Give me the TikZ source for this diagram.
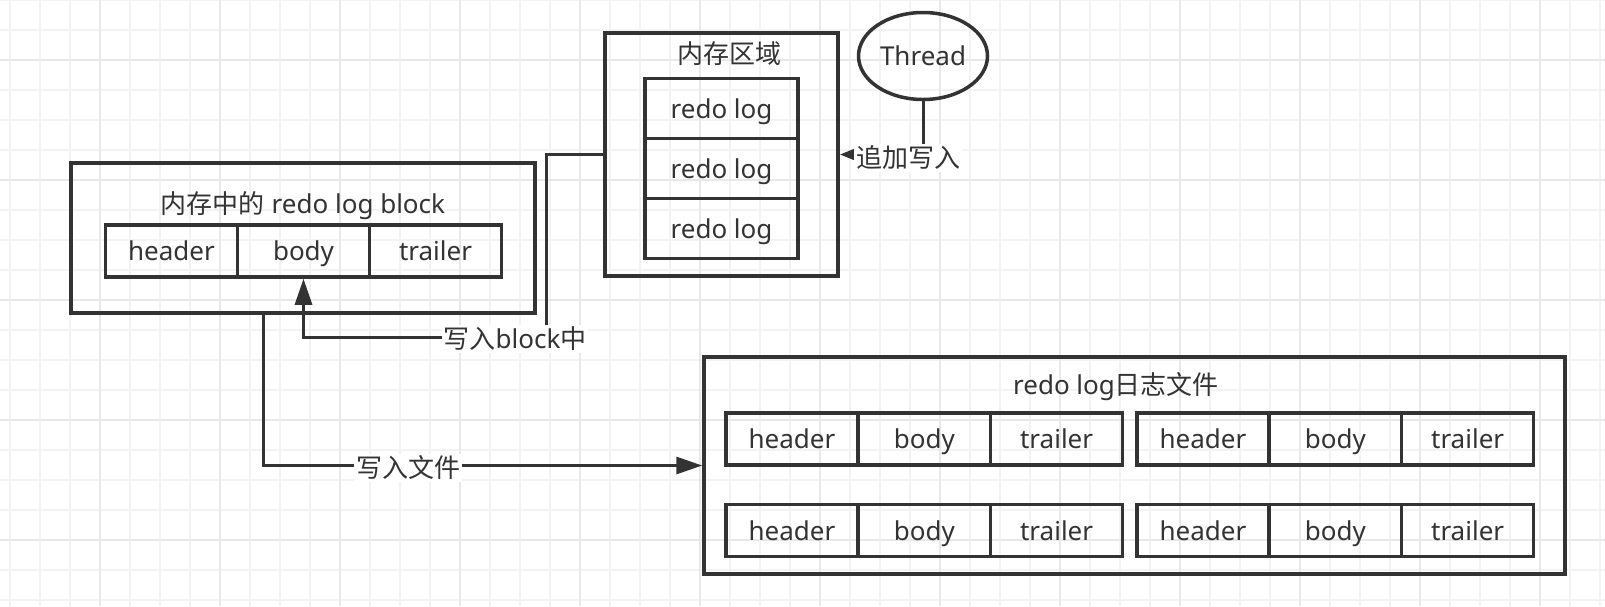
\documentclass[tikz,border=0pt]{standalone}
\usepackage{fontspec}
\setmainfont{Noto Sans}
\newfontfamily\zh{Noto Sans CJK SC}
\usetikzlibrary{shapes.geometric,arrows.meta}
\definecolor{ink}{HTML}{333333}
\definecolor{gridminor}{HTML}{F3F3F3}
\definecolor{gridmajor}{HTML}{E8E8E8}
\begin{document}
\begin{tikzpicture}[x=1pt,y=-1pt]
	\tikzstyle{every node}=[text=ink,font=\fontsize{26}{30}\selectfont]
	\tikzstyle{frame}=[draw=ink,line width=3.5pt,rectangle,inner sep=0pt]
	\tikzstyle{cell}=[draw=ink,line width=3.5pt,rectangle,inner sep=0pt,minimum width=132pt,minimum height=52pt,text height=19pt,text depth=0pt]
	\tikzstyle{conn}=[draw=ink,line width=3pt]
	\tikzstyle{lbl}=[fill=white,inner sep=2pt]
	\useasboundingbox (0,0) rectangle (1605,606);
	\fill[white] (0,0) rectangle (1605,606);
	% background grid
	\foreach \x in {10,40,...,1600} \draw[gridminor,line width=1.5pt] (\x,0) -- (\x,606);
	\foreach \y in {0,30,...,600} \draw[gridminor,line width=1.5pt] (0,\y) -- (1605,\y);
	\foreach \x in {100,220,...,1540} \draw[gridmajor,line width=1.5pt] (\x,0) -- (\x,606);
	\foreach \y in {60,180,...,540} \draw[gridmajor,line width=1.5pt] (0,\y) -- (1605,\y);
	% memory area
	\node[frame,minimum width=233pt,minimum height=243pt] (mem) at (721.5,154.5) {};
	\node (memTitle) at (729,54) {\zh 内存区域};
	\foreach \i/\y in {1/108.5,2/168.5,3/228.5}
		\node[cell,minimum width=153pt,minimum height=60pt] (log\i) at (721.5,\y) {redo log};
	\node[ellipse,draw=ink,line width=3.5pt,minimum width=129pt,minimum height=87pt,inner sep=0pt] (thread) at (923,56) {Thread};
	% redo log block in memory
	\node[frame,minimum width=464pt,minimum height=150pt] (blk) at (303,238) {};
	\node (blkTitle) at (303,206) {{\zh 内存中的} redo log block};
	\node[cell] (blkHead) at (171.5,251) {header};
	\node[cell] (blkBody) at (303.5,251) {body};
	\node[cell] (blkTail) at (435.5,251) {trailer};
	% redo log file
	\node[frame,minimum width=861pt,minimum height=217pt] (file) at (1134.5,465.5) {};
	\node (fileTitle) at (1116,387) {redo log{\zh 日志文件}};
	\foreach \r/\cy in {1/439,2/530.5}
		\foreach \g/\gx in {1/792,2/1203} {
			\node[cell] (f\r\g h) at (\gx,\cy) {header};
			\node[cell] (f\r\g b) at (\gx+132.3,\cy) {body};
			\node[cell] (f\r\g t) at (\gx+264.6,\cy) {trailer};
		}
	% connectors
	\coordinate (bend) at (546,337);
	\coordinate (wrOut) at (263,0);
	\draw[conn,-{Triangle[length=26pt,width=17pt]}] (mem.west) -| (bend) -| (blkBody.south);
	\node[lbl] (wrBlock) at (515,339) {{\zh 写入}block{\zh 中}};
	\draw[conn,-{Triangle[length=26pt,width=17pt]}] (blk.south -| wrOut) |- (file.west);
	\node[lbl] (wrFile) at (408,468) {\zh 写入文件};
	\draw[conn,-{Triangle[length=15pt,width=11pt]}] (thread.south) |- (mem.east);
	\node[lbl] (append) at (908,158) {\zh 追加写入};
\end{tikzpicture}
\end{document}
